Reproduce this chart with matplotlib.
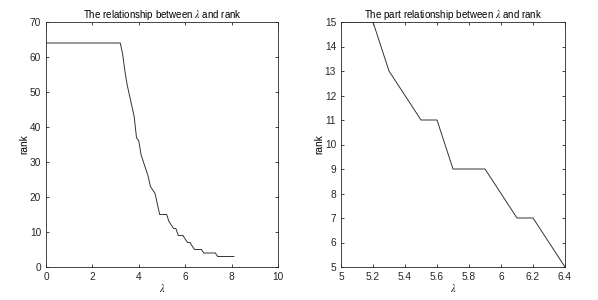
import numpy as np
import matplotlib
matplotlib.use('Agg')
import matplotlib.pyplot as plt

# lambda grid and rank
lam = [0.0, 0.1, 0.2, 0.3, 0.4, 0.5, 0.6, 0.7, 0.8, 0.9,
       1.0, 1.1, 1.2, 1.3, 1.4, 1.5, 1.6, 1.7, 1.8, 1.9,
       2.0, 2.1, 2.2, 2.3, 2.4, 2.5, 2.6, 2.7, 2.8, 2.9,
       3.0, 3.1, 3.2, 3.3, 3.4, 3.5, 3.6, 3.7, 3.8, 3.9,
       4.0, 4.1, 4.2, 4.3, 4.4, 4.5, 4.6, 4.7, 4.8, 4.9,
       5.0, 5.1, 5.2, 5.3, 5.4, 5.5, 5.6, 5.7, 5.8, 5.9,
       6.0, 6.1, 6.2, 6.3, 6.4, 6.5, 6.6, 6.7, 6.8, 6.9,
       7.0, 7.1, 7.2, 7.3, 7.4, 7.5, 7.6, 7.7, 7.8, 7.9,
       8.0, 8.1]
rank = [64, 64, 64, 64, 64, 64, 64, 64, 64, 64,
        64, 64, 64, 64, 64, 64, 64, 64, 64, 64,
        64, 64, 64, 64, 64, 64, 64, 64, 64, 64,
        64, 64, 64, 61, 56, 52, 49, 46, 43, 37,
        36, 32, 30, 28, 26, 23, 22, 21, 18, 15,
        15, 15, 15, 13, 12, 11, 11, 9, 9, 9,
        8, 7, 7, 6, 5, 5, 5, 5, 4, 4,
        4, 4, 4, 4, 3, 3, 3, 3, 3, 3,
        3, 3]

plt.rcParams['font.family'] = ['Liberation Sans', 'DejaVu Sans']
plt.rcParams['mathtext.fontset'] = 'stix'
plt.rcParams['font.size'] = 7.3
plt.rcParams['xtick.direction'] = 'in'
plt.rcParams['ytick.direction'] = 'in'
plt.rcParams['xtick.top'] = True
plt.rcParams['ytick.right'] = True
plt.rcParams['xtick.major.size'] = 2.5
plt.rcParams['ytick.major.size'] = 2.5
plt.rcParams['axes.linewidth'] = 0.6
plt.rcParams['xtick.major.width'] = 0.6
plt.rcParams['ytick.major.width'] = 0.6
axcol = '#262626'
plt.rcParams['axes.edgecolor'] = axcol
plt.rcParams['xtick.color'] = axcol
plt.rcParams['ytick.color'] = axcol

fig = plt.figure(figsize=(5.98, 3.0), dpi=100)
W, H = 598.0, 300.0
ax1 = fig.add_axes([46 / W, 1 - 267 / H, (278 - 46) / W, (267 - 22) / H])
ax2 = fig.add_axes([341 / W, 1 - 267 / H, (565 - 341) / W, (267 - 22) / H])

ax1.plot(lam, rank, color='#333333', linewidth=0.7)
ax1.set_xlim(0, 10)
ax1.set_ylim(0, 70)
ax1.set_xticks([0, 2, 4, 6, 8, 10])
ax1.set_yticks(range(0, 71, 10))
ax1.set_xlabel(r'$\lambda$', labelpad=0)
ax1.set_ylabel('rank', labelpad=0)
ax1.set_title(r'The relationship between $\lambda$ and rank', fontsize=7, pad=3)

ax2.plot(lam, rank, color='#333333', linewidth=0.7)
ax2.set_xlim(5, 6.4)
ax2.set_ylim(5, 15)
ax2.set_xticks([5, 5.2, 5.4, 5.6, 5.8, 6, 6.2, 6.4])
ax2.set_xticklabels(['5', '5.2', '5.4', '5.6', '5.8', '6', '6.2', '6.4'])
ax2.set_yticks(range(5, 16))
ax2.set_xlabel(r'$\lambda$', labelpad=0)
ax2.set_ylabel('rank', labelpad=0)
ax2.set_title(r'The part relationship between $\lambda$ and rank', fontsize=7, pad=3)

fig.savefig('out.png', dpi=100)
